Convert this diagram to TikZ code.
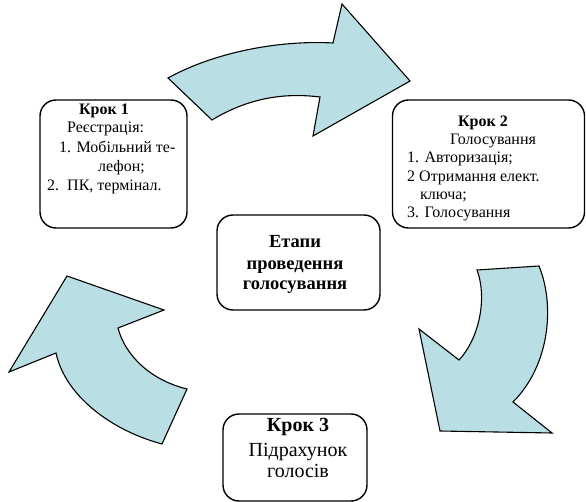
\documentclass[tikz,border=0pt]{standalone}
\usepackage{fontspec}
\setmainfont{Liberation Serif}
\definecolor{arrowfill}{RGB}{185,223,228}
\begin{document}
\begin{tikzpicture}[x=1pt,y=-1pt,
  box/.style={draw=black,line width=1.4pt,rounded corners=16pt,inner sep=0pt},
  bigarrow/.style={draw=black,fill=arrowfill,line width=1.1pt,line join=miter},
  ln/.style={anchor=base west,inner sep=0pt,font=\fontsize{16}{19}\selectfont},
  lnc/.style={anchor=base,inner sep=0pt,font=\fontsize{16}{19}\selectfont},
  hd/.style={anchor=base,inner sep=0pt,font=\fontsize{16}{19}\selectfont\bfseries},
  ctr/.style={anchor=base,inner sep=0pt,font=\fontsize{18.5}{22}\selectfont\bfseries},
  big/.style={anchor=base,inner sep=0pt,font=\fontsize{20}{24}\selectfont},
  bighd/.style={anchor=base,inner sep=0pt,font=\fontsize{20}{24}\selectfont\bfseries}]
\useasboundingbox (0,0) rectangle (586,502);
% arrows
\draw[bigarrow] (168,78) .. controls (215,52) and (280,40) .. (333,43)
  -- (342,4) -- (410,81) -- (313,136) -- (320,97)
  .. controls (280,92) and (245,100) .. (212,120) -- cycle;
\draw[bigarrow] (477,270) -- (539,266)
  .. controls (555,305) and (550,365) .. (513,402)
  -- (552,433) -- (440,431) -- (419,329) -- (459,360)
  .. controls (478,340) and (488,300) .. (477,270) -- cycle;
\draw[bigarrow] (67,276) -- (164,310) -- (118,328)
  .. controls (125,355) and (150,380) .. (187,389)
  -- (162,444) .. controls (110,430) and (65,395) .. (56,353)
  -- (9,372) -- cycle;
% boxes
\node[box,minimum width=147pt,minimum height=128pt] (b1) at (113.5,164) {};
\node[box,minimum width=192pt,minimum height=128pt] (b2) at (488.5,164) {};
\node[box,minimum width=163pt,minimum height=95pt] (bc) at (298.5,262.5) {};
\node[box,minimum width=144pt,minimum height=87pt] (b3) at (295,457.5) {};
% box 1 text
\node[hd] (t11) at (104,115) {Крок 1};
\node[ln] (t12) at (67,133) {Реєстрація:};
\node[ln] (t13) at (59,153) {1. Мобільний те-};
\node[ln] (t14) at (98,172) {лефон;};
\node[ln] (t15) at (47,191) {2.\ \ ПК, термінал.};
% box 2 text
\node[hd] (t21) at (483,127) {Крок 2};
\node[lnc] (t22) at (493,145) {Голосування};
\node[ln] (t23) at (407,163) {1. Авторизація;};
\node[ln] (t24) at (407,182) {2 Отримання елект.};
\node[ln] (t25) at (420,200) {ключа;};
\node[ln] (t26) at (407,218) {3. Голосування};
% center text
\node[ctr] (c1) at (295,248) {Етапи};
\node[ctr] (c2) at (295,270) {проведення};
\node[ctr] (c3) at (295,290) {голосування};
% box 3 text
\node[bighd] (t31) at (298,431) {Крок 3};
\node[big] (t32) at (298,456) {Підрахунок};
\node[big] (t33) at (298,477) {голосів};
\end{tikzpicture}
\end{document}
